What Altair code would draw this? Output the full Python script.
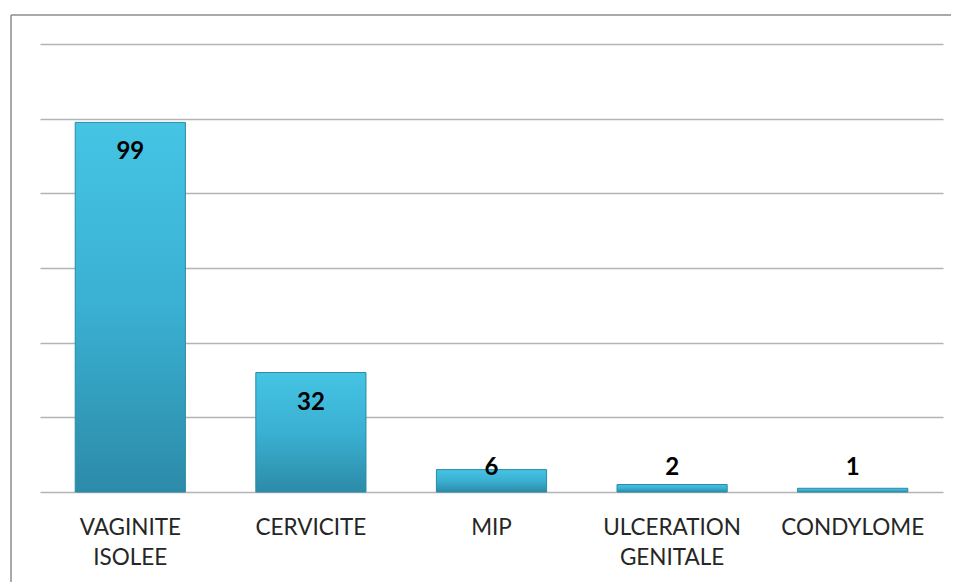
import altair as alt
import pandas as pd

categories = ["VAGINITE\nISOLEE", "CERVICITE", "MIP", "ULCERATION\nGENITALE", "CONDYLOME"]
counts = [99, 32, 6, 2, 1]
y_ticks = [0, 20, 40, 60, 80, 100, 120]

df = pd.DataFrame({"cat": categories, "n": counts})
frame_df = pd.DataFrame({"k": [0]})

W, H = 903, 448

x_enc = alt.X("cat:N", sort=categories,
              scale=alt.Scale(paddingInner=0.39, paddingOuter=0.195),
              axis=alt.Axis(title=None, labelExpr="split(datum.label, '\\n')",
                            labelAngle=0, labelFontSize=22.5, labelFont="Lato",
                            labelColor="#262626", labelLineHeight=30,
                            labelPadding=35, ticks=False, domain=False,
                            labelBaseline="middle"))
y_scale = alt.Scale(domain=[0, 120], nice=False)

bars = alt.Chart(df).mark_bar(
    color=alt.Gradient(gradient="linear",
                       stops=[alt.GradientStop(color="#45C4E4", offset=0),
                              alt.GradientStop(color="#3AB0D2", offset=0.5),
                              alt.GradientStop(color="#2C8BA8", offset=1)],
                       x1=0, x2=0, y1=0, y2=1),
    stroke="#2B8AA6", strokeWidth=1,
).encode(
    x=x_enc,
    y=alt.Y("n:Q", scale=y_scale,
            axis=alt.Axis(title=None, values=y_ticks, labels=False, ticks=False,
                          domain=False, grid=True, gridColor="#B4B4B4",
                          gridWidth=1.5)),
)

labels = alt.Chart(df).transform_calculate(
    ly="max(datum.n, 14.5)"
).mark_text(fontSize=24, fontWeight="bold", font="Lato", color="#000000",
            baseline="middle", dy=30).encode(
    x=alt.X("cat:N", sort=categories),
    y=alt.Y("ly:Q", scale=y_scale),
    text="n:Q",
)

frame_top = alt.Chart(frame_df).mark_rule(
    stroke="#8C8C8C", strokeWidth=1.5, clip=False
).encode(x=alt.value(-29), x2=alt.value(960), y=alt.value(-29))

frame_left = alt.Chart(frame_df).mark_rule(
    stroke="#8C8C8C", strokeWidth=1.5, clip=False
).encode(x=alt.value(-29), y=alt.value(-29), y2=alt.value(600))

chart = alt.layer(frame_top, frame_left, bars, labels).properties(
    width=W, height=H,
    autosize=alt.AutoSizeParams(type="none"),
    padding={"left": 32, "top": 36, "right": 8, "bottom": 90},
    background="white",
).configure_view(stroke=None)

chart.save("out.html", embed_options={"renderer": "svg", "actions": False})
